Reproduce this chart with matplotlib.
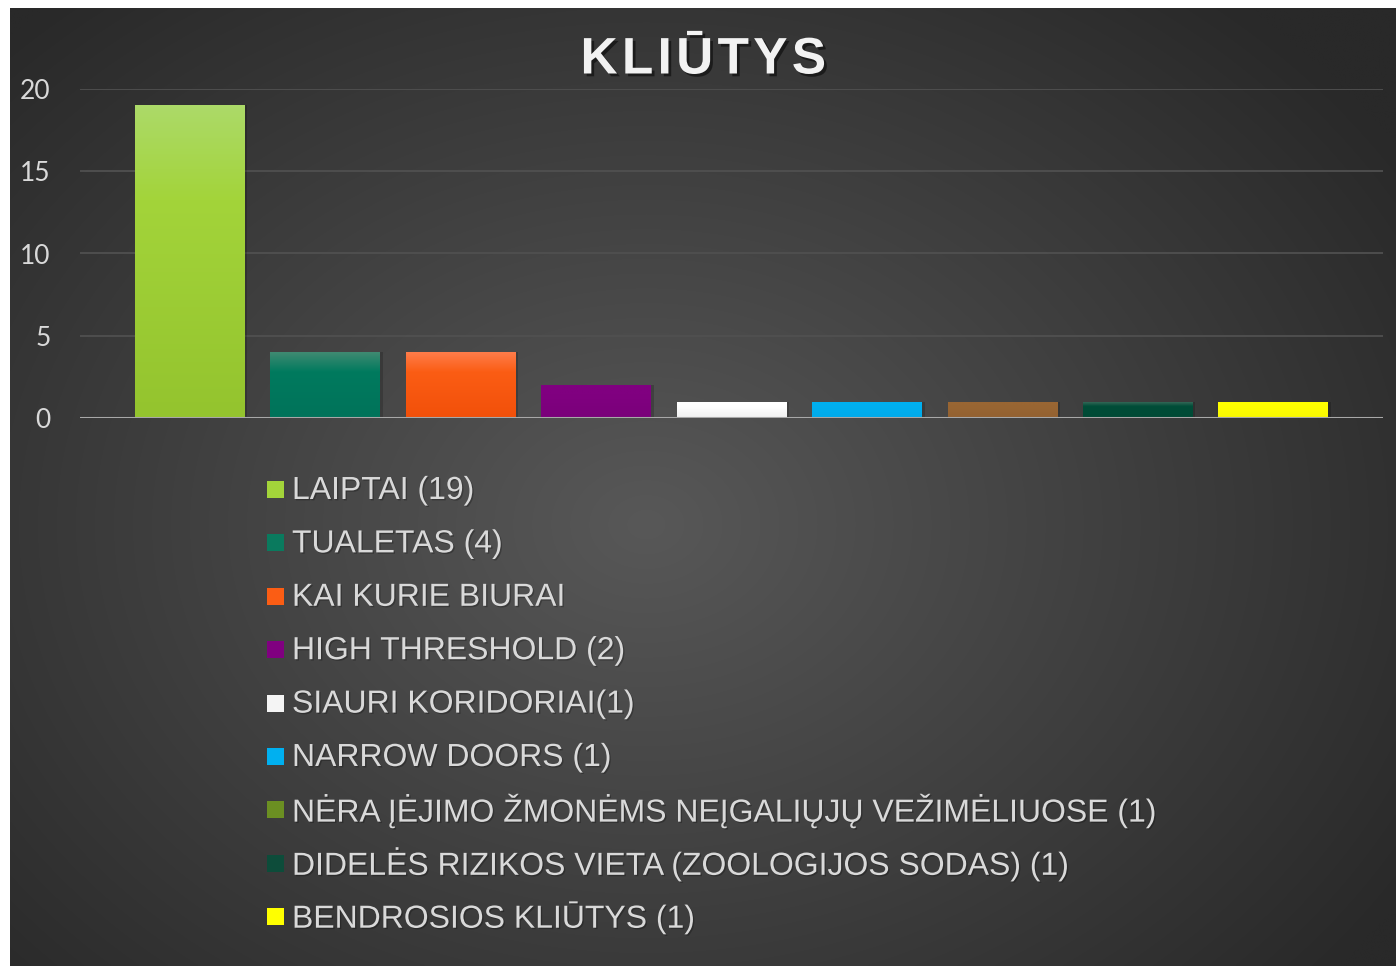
import numpy as np
import matplotlib.pyplot as plt
import matplotlib.patheffects as pe
from matplotlib.patches import Rectangle
from matplotlib.colors import LinearSegmentedColormap

# ---- data ----
categories = ['LAIPTAI (19)', 'TUALETAS (4)', 'KAI KURIE BIURAI', 'HIGH THRESHOLD (2)',
              'SIAURI KORIDORIAI(1)', 'NARROW DOORS (1)',
              'NĖRA ĮĖJIMO ŽMONĖMS NEĮGALIŲJŲ VEŽIMĖLIUOSE (1)',
              'DIDELĖS RIZIKOS VIETA (ZOOLOGIJOS SODAS) (1)',
              'BENDROSIOS KLIŪTYS (1)']
values = [19, 4, 4, 2, 1, 1, 1, 1, 1]
yticks = [0, 5, 10, 15, 20]

# gradient stops (top, middle, bottom) for each bar
bar_grad = [
    ('#acda68', '#a3d43a', '#94c42e'),
    ('#3f8a72', '#007a5e', '#00735a'),
    ('#ff7c4a', '#fb5d14', '#f2500a'),
    ('#800080', '#800080', '#7a007a'),
    ('#ffffff', '#ffffff', '#f0f0f0'),
    ('#00b0f0', '#00b0f0', '#00aaea'),
    ('#996633', '#996633', '#936131'),
    ('#3d6d5d', '#004d38', '#004a35'),
    ('#ffff00', '#ffff00', '#f8f800'),
]
legend_colors = ['#a3d43a', '#0a7a5e', '#fb5d14', '#800080', '#f4f4f4',
                 '#00b0f0', '#6b8f22', '#0d4c3a', '#ffff00']

W, H = 1396, 966
fig = plt.figure(figsize=(W / 100, H / 100), dpi=100, facecolor='white')

# ---- background panel with radial gradient ----
bg = fig.add_axes([0, 0, 1, 1])
bg.set_xlim(0, W)
bg.set_ylim(H, 0)
bg.axis('off')
yy, xx = np.mgrid[0:H:2, 0:W:2]
r = np.sqrt(((xx - 640) / 900.0) ** 2 + ((yy - 520) / 700.0) ** 2)
r = np.clip(r, 0, 1)
c_in = np.array([0x58, 0x58, 0x58]) / 255
c_out = np.array([0x29, 0x29, 0x29]) / 255
img = c_in[None, None, :] * (1 - r[..., None]) + c_out[None, None, :] * r[..., None]
bg.imshow(img, extent=[10, W, H, 8], aspect='auto', interpolation='bilinear')
bg.set_xlim(0, W)
bg.set_ylim(H, 0)

# ---- chart axes ----
ax = fig.add_axes([80 / W, 1 - 418 / H, (1383 - 80) / W, (418 - 89) / H])
ax.patch.set_alpha(0)
x = np.arange(len(values))
bars = ax.bar(x, values, width=0.81, facecolor='none', edgecolor='none', zorder=3)
for bar, (c0, c1, c2) in zip(bars, bar_grad):
    cmap = LinearSegmentedColormap.from_list('g', [(0, c0), (0.3, c1), (1, c2)])
    grad = np.linspace(0, 1, 100).reshape(-1, 1)
    x0, w = bar.get_x(), bar.get_width()
    h = bar.get_height()
    gi = ax.imshow(grad, cmap=cmap, extent=[x0, x0 + w, 0, h], origin='upper',
                   aspect='auto', zorder=3, interpolation='bilinear')
    gi.set_clip_path(bar)
    # soft drop shadow
    ax.add_patch(Rectangle((x0 + 0.02, 0), w, h, facecolor='black', alpha=0.18,
                           edgecolor='none', zorder=2.5))

ax.set_xlim(-0.81, len(values) - 1 + 0.81)
ax.set_ylim(0, 20)
ax.set_yticks(yticks)
ax.set_yticklabels([str(t) for t in yticks], fontsize=19, color='#d9d9d9', family='Lato')
ax.tick_params(axis='y', length=0, pad=21)
ax.set_xticks([])
for s in ax.spines.values():
    s.set_visible(False)
for t in yticks[1:]:
    ax.axhline(t, color='#505050', lw=1.3, zorder=1)
ax.axhline(0, color='#a8a8a8', lw=2.2, zorder=4)

# ---- title ----
fig.text(703 / W, 1 - 60 / H, 'K L I Ū T Y S'.replace(' ', '\u200a'), ha='center', va='center',
         fontsize=37, fontweight='bold', color='#f2f2f2', family='Liberation Sans',
         path_effects=[pe.withSimplePatchShadow(offset=(2, -2), shadow_rgbFace='black', alpha=0.5)])

# ---- legend ----
row0, pitch = 490, 53.4
for i, (lab, col) in enumerate(zip(categories, legend_colors)):
    yc = row0 + i * pitch
    bg.add_patch(Rectangle((267, yc - 9), 17, 17, facecolor=col, edgecolor='none'))
    bg.text(292, yc + 1, lab, ha='left', va='center', fontsize=23, color='#d9d9d9',
            family='Liberation Sans',
            path_effects=[pe.withSimplePatchShadow(offset=(1, -1), shadow_rgbFace='black', alpha=0.25)])

fig.savefig('out.png', dpi=100, facecolor='white')
